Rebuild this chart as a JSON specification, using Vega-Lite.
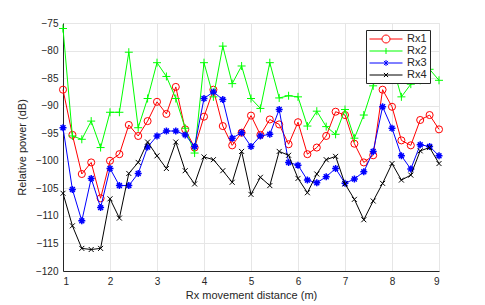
{
  "$schema": "https://vega.github.io/schema/vega-lite/v6.json",
  "width": 376,
  "height": 248,
  "autosize": {"type": "none"},
  "padding": {"left": 63, "top": 23, "right": 46, "bottom": 34},
  "background": "white",
  "config": {
    "font": "Liberation Sans",
    "view": {"stroke": "#e3e3e3", "strokeWidth": 1},
    "axis": {
      "domainColor": "#262626",
      "gridColor": "#e6e6e6",
      "ticks": false,
      "labelColor": "#262626",
      "labelFontSize": 10,
      "titleColor": "#262626",
      "titleFontSize": 11,
      "titleFontWeight": "normal"
    }
  },
  "data": {
    "values": [
      {"x":1,"s":"Rx1","y":-87.1},{"x":1.2,"s":"Rx1","y":-95.3},{"x":1.4,"s":"Rx1","y":-102.4},{"x":1.6,"s":"Rx1","y":-100.3},{"x":1.8,"s":"Rx1","y":-106.8},{"x":2,"s":"Rx1","y":-100.0},{"x":2.2,"s":"Rx1","y":-98.8},{"x":2.4,"s":"Rx1","y":-93.5},{"x":2.6,"s":"Rx1","y":-95.5},{"x":2.8,"s":"Rx1","y":-92.8},{"x":3,"s":"Rx1","y":-89.3},{"x":3.2,"s":"Rx1","y":-91.5},{"x":3.4,"s":"Rx1","y":-86.6},{"x":3.6,"s":"Rx1","y":-94.3},{"x":3.8,"s":"Rx1","y":-97.6},{"x":4,"s":"Rx1","y":-92.0},{"x":4.2,"s":"Rx1","y":-87.1},{"x":4.4,"s":"Rx1","y":-93.7},{"x":4.6,"s":"Rx1","y":-97.2},{"x":4.8,"s":"Rx1","y":-94.9},{"x":5,"s":"Rx1","y":-91.8},{"x":5.2,"s":"Rx1","y":-95.3},{"x":5.4,"s":"Rx1","y":-92.5},{"x":5.6,"s":"Rx1","y":-93.4},{"x":5.8,"s":"Rx1","y":-97.0},{"x":6,"s":"Rx1","y":-93.0},{"x":6.2,"s":"Rx1","y":-98.8},{"x":6.4,"s":"Rx1","y":-97.6},{"x":6.6,"s":"Rx1","y":-95.5},{"x":6.8,"s":"Rx1","y":-91.1},{"x":7,"s":"Rx1","y":-91.7},{"x":7.2,"s":"Rx1","y":-96.9},{"x":7.4,"s":"Rx1","y":-100.3},{"x":7.6,"s":"Rx1","y":-99.0},{"x":7.8,"s":"Rx1","y":-87.1},{"x":8,"s":"Rx1","y":-90.2},{"x":8.2,"s":"Rx1","y":-96.3},{"x":8.4,"s":"Rx1","y":-97.2},{"x":8.6,"s":"Rx1","y":-92.6},{"x":8.8,"s":"Rx1","y":-91.7},{"x":9,"s":"Rx1","y":-94.3},
      {"x":1,"s":"Rx2","y":-76.0},{"x":1.2,"s":"Rx2","y":-95.5},{"x":1.4,"s":"Rx2","y":-96.1},{"x":1.6,"s":"Rx2","y":-92.8},{"x":1.8,"s":"Rx2","y":-97.6},{"x":2,"s":"Rx2","y":-91.2},{"x":2.2,"s":"Rx2","y":-91.2},{"x":2.4,"s":"Rx2","y":-80.3},{"x":2.6,"s":"Rx2","y":-94.0},{"x":2.8,"s":"Rx2","y":-88.7},{"x":3,"s":"Rx2","y":-82.2},{"x":3.2,"s":"Rx2","y":-84.7},{"x":3.4,"s":"Rx2","y":-88.7},{"x":3.6,"s":"Rx2","y":-94.1},{"x":3.8,"s":"Rx2","y":-98.6},{"x":4,"s":"Rx2","y":-82.2},{"x":4.2,"s":"Rx2","y":-88.4},{"x":4.4,"s":"Rx2","y":-79.2},{"x":4.6,"s":"Rx2","y":-86.0},{"x":4.8,"s":"Rx2","y":-82.8},{"x":5,"s":"Rx2","y":-88.7},{"x":5.2,"s":"Rx2","y":-90.5},{"x":5.4,"s":"Rx2","y":-82.2},{"x":5.6,"s":"Rx2","y":-88.6},{"x":5.8,"s":"Rx2","y":-88.2},{"x":6,"s":"Rx2","y":-88.4},{"x":6.2,"s":"Rx2","y":-93.7},{"x":6.4,"s":"Rx2","y":-91.0},{"x":6.6,"s":"Rx2","y":-93.8},{"x":6.8,"s":"Rx2","y":-95.2},{"x":7,"s":"Rx2","y":-90.7},{"x":7.2,"s":"Rx2","y":-95.9},{"x":7.4,"s":"Rx2","y":-91.7},{"x":7.6,"s":"Rx2","y":-86.4},{"x":7.8,"s":"Rx2","y":-81.6},{"x":8,"s":"Rx2","y":-82.4},{"x":8.2,"s":"Rx2","y":-88.4},{"x":8.4,"s":"Rx2","y":-86.1},{"x":8.6,"s":"Rx2","y":-85.4},{"x":8.8,"s":"Rx2","y":-83.4},{"x":9,"s":"Rx2","y":-85.4},
      {"x":1,"s":"Rx3","y":-94.0},{"x":1.2,"s":"Rx3","y":-105.2},{"x":1.4,"s":"Rx3","y":-110.9},{"x":1.6,"s":"Rx3","y":-103.2},{"x":1.8,"s":"Rx3","y":-108.5},{"x":2,"s":"Rx3","y":-101.4},{"x":2.2,"s":"Rx3","y":-104.5},{"x":2.4,"s":"Rx3","y":-104.5},{"x":2.6,"s":"Rx3","y":-102.3},{"x":2.8,"s":"Rx3","y":-97.5},{"x":3,"s":"Rx3","y":-95.5},{"x":3.2,"s":"Rx3","y":-94.6},{"x":3.4,"s":"Rx3","y":-94.6},{"x":3.6,"s":"Rx3","y":-95.3},{"x":3.8,"s":"Rx3","y":-97.4},{"x":4,"s":"Rx3","y":-88.7},{"x":4.2,"s":"Rx3","y":-87.5},{"x":4.4,"s":"Rx3","y":-88.9},{"x":4.6,"s":"Rx3","y":-95.9},{"x":4.8,"s":"Rx3","y":-94.9},{"x":5,"s":"Rx3","y":-97.4},{"x":5.2,"s":"Rx3","y":-95.5},{"x":5.4,"s":"Rx3","y":-95.2},{"x":5.6,"s":"Rx3","y":-90.7},{"x":5.8,"s":"Rx3","y":-100.3},{"x":6,"s":"Rx3","y":-100.8},{"x":6.2,"s":"Rx3","y":-103.5},{"x":6.4,"s":"Rx3","y":-104.0},{"x":6.6,"s":"Rx3","y":-102.9},{"x":6.8,"s":"Rx3","y":-101.4},{"x":7,"s":"Rx3","y":-104.1},{"x":7.2,"s":"Rx3","y":-103.3},{"x":7.4,"s":"Rx3","y":-102.0},{"x":7.6,"s":"Rx3","y":-98.3},{"x":7.8,"s":"Rx3","y":-90.2},{"x":8,"s":"Rx3","y":-94.1},{"x":8.2,"s":"Rx3","y":-99.1},{"x":8.4,"s":"Rx3","y":-101.5},{"x":8.6,"s":"Rx3","y":-97.1},{"x":8.8,"s":"Rx3","y":-97.4},{"x":9,"s":"Rx3","y":-99.1},
      {"x":1,"s":"Rx4","y":-105.9},{"x":1.2,"s":"Rx4","y":-111.8},{"x":1.4,"s":"Rx4","y":-115.9},{"x":1.6,"s":"Rx4","y":-116.1},{"x":1.8,"s":"Rx4","y":-115.9},{"x":2,"s":"Rx4","y":-106.9},{"x":2.2,"s":"Rx4","y":-110.4},{"x":2.4,"s":"Rx4","y":-102.3},{"x":2.6,"s":"Rx4","y":-100.3},{"x":2.8,"s":"Rx4","y":-96.6},{"x":3,"s":"Rx4","y":-99.1},{"x":3.2,"s":"Rx4","y":-101.4},{"x":3.4,"s":"Rx4","y":-96.6},{"x":3.6,"s":"Rx4","y":-101.8},{"x":3.8,"s":"Rx4","y":-104.2},{"x":4,"s":"Rx4","y":-99.3},{"x":4.2,"s":"Rx4","y":-99.8},{"x":4.4,"s":"Rx4","y":-101.8},{"x":4.6,"s":"Rx4","y":-103.9},{"x":4.8,"s":"Rx4","y":-98.3},{"x":5,"s":"Rx4","y":-106.1},{"x":5.2,"s":"Rx4","y":-103.0},{"x":5.4,"s":"Rx4","y":-104.5},{"x":5.6,"s":"Rx4","y":-98.3},{"x":5.8,"s":"Rx4","y":-99.0},{"x":6,"s":"Rx4","y":-103.2},{"x":6.2,"s":"Rx4","y":-105.8},{"x":6.4,"s":"Rx4","y":-102.4},{"x":6.6,"s":"Rx4","y":-99.8},{"x":6.8,"s":"Rx4","y":-99.2},{"x":7,"s":"Rx4","y":-104.2},{"x":7.2,"s":"Rx4","y":-107.0},{"x":7.4,"s":"Rx4","y":-110.7},{"x":7.6,"s":"Rx4","y":-107.3},{"x":7.8,"s":"Rx4","y":-104.1},{"x":8,"s":"Rx4","y":-100.5},{"x":8.2,"s":"Rx4","y":-103.5},{"x":8.4,"s":"Rx4","y":-102.6},{"x":8.6,"s":"Rx4","y":-98.2},{"x":8.8,"s":"Rx4","y":-97.6},{"x":9,"s":"Rx4","y":-100.5}
    ]
  },
  "encoding": {
    "x": {
      "field": "x", "type": "quantitative",
      "scale": {"domain": [1, 9], "nice": false, "zero": false},
      "axis": {"values": [1,2,3,4,5,6,7,8,9], "title": "Rx movement distance (m)", "labelPadding": 5, "titlePadding": 3}
    },
    "y": {
      "field": "y", "type": "quantitative",
      "scale": {"domain": [-120, -75], "nice": false, "zero": false},
      "axis": {"values": [-120,-115,-110,-105,-100,-95,-90,-85,-80,-75], "title": "Relative power (dB)", "labelPadding": 5, "titlePadding": 8}
    }
  },
  "layer": [
    {
      "transform": [{"filter": "datum.s === 'Rx1'"}],
      "mark": {"type": "line", "color": "#ff0000", "strokeWidth": 1,
        "point": {"shape": "circle", "filled": false, "size": 50, "strokeWidth": 1, "color": "#ff0000"}}
    },
    {
      "transform": [{"filter": "datum.s === 'Rx2'"}],
      "mark": {"type": "line", "color": "#00ff00", "strokeWidth": 1,
        "point": {"shape": "M-1,0H1M0,-1V1", "filled": false, "size": 64, "strokeWidth": 1, "color": "#00ff00"}}
    },
    {
      "transform": [{"filter": "datum.s === 'Rx3'"}],
      "mark": {"type": "line", "color": "#0000ff", "strokeWidth": 1,
        "point": {"shape": "M-1,0H1M0,-1V1M-0.7,-0.7L0.7,0.7M-0.7,0.7L0.7,-0.7", "filled": false, "size": 49, "strokeWidth": 1.5, "color": "#0000ff"}}
    },
    {
      "transform": [{"filter": "datum.s === 'Rx4'"}],
      "mark": {"type": "line", "color": "#000000", "strokeWidth": 1,
        "point": {"shape": "M-1,-1L1,1M-1,1L1,-1", "filled": false, "size": 25, "strokeWidth": 1, "color": "#000000"}}
    },
    {
      "mark": {"type": "point", "filled": false, "opacity": 0, "strokeWidth": 1},
      "encoding": {
        "color": {
          "field": "s", "type": "nominal",
          "scale": {"domain": ["Rx1","Rx2","Rx3","Rx4"], "range": ["#ff0000","#00ff00","#0000ff","#000000"]},
          "legend": {
            "title": null, "orient": "none", "legendX": 303, "legendY": 7,
            "fillColor": "white", "strokeColor": "#262626", "padding": 3,
            "symbolSize": 121, "symbolStrokeWidth": 1, "symbolOpacity": 1,
            "labelFontSize": 11, "labelColor": "#262626", "labelOffset": 26, "rowPadding": 0
          }
        },
        "shape": {
          "field": "s", "type": "nominal",
          "scale": {"domain": ["Rx1","Rx2","Rx3","Rx4"], "range": [
            "M-1,0H1.273M2.727,0H5M2.727,0A0.727,0.727,0,1,1,1.273,0A0.727,0.727,0,1,1,2.727,0",
            "M-1,0H5M2,-0.55V0.55",
            "M-1,0H5M2,-0.55V0.55M1.62,-0.38L2.38,0.38M1.62,0.38L2.38,-0.38",
            "M-1,0H5M1.62,-0.38L2.38,0.38M1.62,0.38L2.38,-0.38"
          ]},
          "legend": {
            "title": null, "orient": "none", "legendX": 303, "legendY": 7,
            "fillColor": "white", "strokeColor": "#262626", "padding": 3,
            "symbolSize": 121, "symbolStrokeWidth": 1, "symbolOpacity": 1,
            "labelFontSize": 11, "labelColor": "#262626", "labelOffset": 26, "rowPadding": 0
          }
        }
      }
    }
  ]
}
